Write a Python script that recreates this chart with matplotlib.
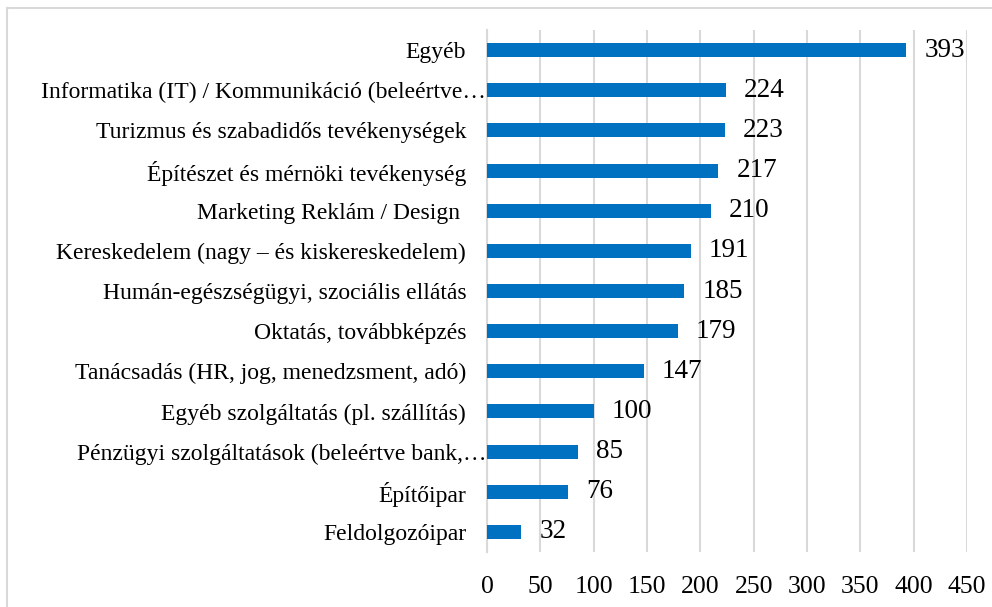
import matplotlib
matplotlib.use("Agg")
import matplotlib.pyplot as plt
import matplotlib.transforms as mtransforms
from matplotlib.patches import Rectangle

categories = [
    "Egyéb",
    "Informatika (IT) / Kommunikáció (beleértve…",
    "Turizmus és szabadidős tevékenységek",
    "Építészet és mérnöki tevékenység",
    "Marketing Reklám / Design ",
    "Kereskedelem (nagy – és kiskereskedelem)",
    "Humán-egészségügyi, szociális ellátás",
    "Oktatás, továbbképzés",
    "Tanácsadás (HR, jog, menedzsment, adó)",
    "Egyéb szolgáltatás (pl. szállítás)",
    "Pénzügyi szolgáltatások (beleértve bank,…",
    "Építőipar",
    "Feldolgozóipar",
]
values = [393, 224, 223, 217, 210, 191, 185, 179, 147, 100, 85, 76, 32]
xticks = [0, 50, 100, 150, 200, 250, 300, 350, 400, 450]

plt.rcParams['font.family'] = ['Liberation Serif', 'DejaVu Serif']

fig = plt.figure(figsize=(9.92, 6.07), dpi=100)
fig.patches.append(Rectangle((7/992, -0.1), 1.2, 1 - 8/607 + 0.1, transform=fig.transFigure,
                             fill=False, edgecolor='#D9D9D9', linewidth=1.5))
ax = fig.add_axes([487/992, 1 - 552/607, 480/992, (552 - 30)/607])

ypos = list(range(len(categories)))
ax.barh(ypos, values, height=0.35, color='#0070C0', zorder=3)
ax.set_ylim(len(categories) - 0.5, -0.5)
ax.set_xlim(0, 450)
ax.set_xticks(xticks)
ax.set_xticklabels([str(t) for t in xticks], fontsize=18.5)
ax.set_yticks(ypos)
ax.set_yticklabels(categories, fontsize=17)
ax.tick_params(axis='both', length=0, colors='#000000')
ax.tick_params(axis='x', pad=17)
ax.tick_params(axis='y', pad=15)
ax.grid(axis='x', color='#D9D9D9', linewidth=1.5, zorder=0)
for s in ['top', 'right', 'bottom']:
    ax.spines[s].set_visible(False)
ax.spines['left'].set_color('#D9D9D9')
ax.spines['left'].set_linewidth(1.5)

# truncated labels overflow to the axis line
for lbl in ax.get_yticklabels():
    if lbl.get_text().endswith('…'):
        lbl.set_transform(lbl.get_transform() +
                          mtransforms.ScaledTranslation(20/100, 0, fig.dpi_scale_trans))

for y, v in zip(ypos, values):
    ax.annotate(str(v), xy=(v, y), xytext=(13, 0), textcoords='offset points',
                va='center', ha='left', fontsize=19.5)

fig.savefig('out.png', dpi=100)
